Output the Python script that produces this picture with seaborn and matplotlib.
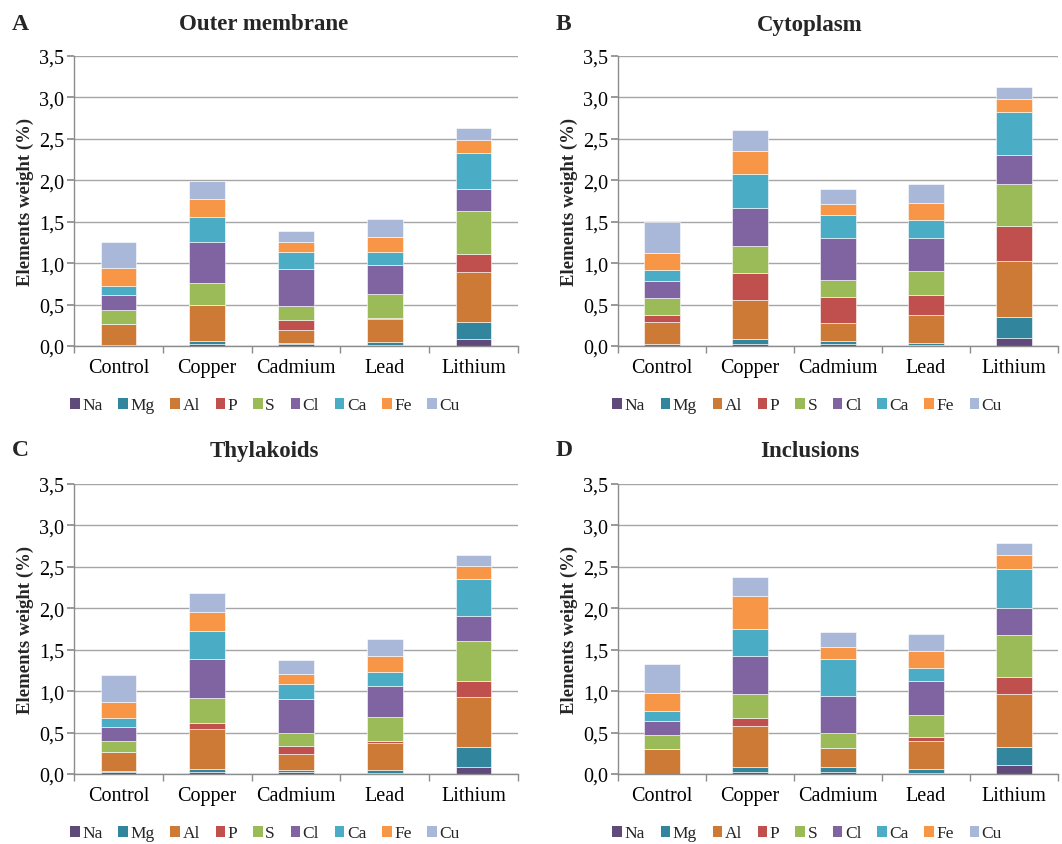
import matplotlib
matplotlib.use("Agg")
import matplotlib.pyplot as plt
from matplotlib.ticker import FuncFormatter, MultipleLocator, FixedLocator
from matplotlib.patches import Patch
import seaborn as sns
import pandas as pd
import numpy as np

categories = ["Control", "Copper", "Cadmium", "Lead", "Lithium"]
elements = ["Na", "Mg", "Al", "P", "S", "Cl", "Ca", "Fe", "Cu"]
colors = ["#604A7B", "#31859C", "#CC7A35", "#C0504D", "#9BBB59",
          "#8064A2", "#4BACC6", "#F79646", "#A9B8D8"]

# segment heights (element weight %) per category
outer = {
    "Na": [0.00, 0.030, 0.025, 0.01, 0.09],
    "Mg": [0.01, 0.035, 0.015, 0.04, 0.20],
    "Al": [0.25, 0.435, 0.15, 0.27, 0.60],
    "P":  [0.00, 0.00, 0.12, 0.02, 0.22],
    "S":  [0.17, 0.26, 0.17, 0.29, 0.52],
    "Cl": [0.18, 0.50, 0.45, 0.35, 0.27],
    "Ca": [0.12, 0.30, 0.20, 0.15, 0.43],
    "Fe": [0.21, 0.21, 0.12, 0.19, 0.16],
    "Cu": [0.32, 0.22, 0.14, 0.21, 0.14],
}
cytoplasm = {
    "Na": [0.00, 0.025, 0.025, 0.010, 0.10],
    "Mg": [0.02, 0.055, 0.035, 0.025, 0.25],
    "Al": [0.27, 0.48, 0.22, 0.335, 0.68],
    "P":  [0.08, 0.32, 0.31, 0.24, 0.42],
    "S":  [0.21, 0.33, 0.21, 0.29, 0.51],
    "Cl": [0.20, 0.46, 0.50, 0.40, 0.34],
    "Ca": [0.14, 0.41, 0.28, 0.22, 0.52],
    "Fe": [0.20, 0.27, 0.13, 0.20, 0.16],
    "Cu": [0.38, 0.26, 0.19, 0.24, 0.15],
}
thylakoids = {
    "Na": [0.02, 0.025, 0.025, 0.01, 0.09],
    "Mg": [0.02, 0.04, 0.025, 0.04, 0.24],
    "Al": [0.22, 0.475, 0.19, 0.32, 0.60],
    "P":  [0.01, 0.07, 0.10, 0.03, 0.19],
    "S":  [0.13, 0.31, 0.16, 0.29, 0.49],
    "Cl": [0.17, 0.47, 0.40, 0.37, 0.30],
    "Ca": [0.11, 0.33, 0.19, 0.17, 0.44],
    "Fe": [0.19, 0.24, 0.12, 0.19, 0.16],
    "Cu": [0.32, 0.23, 0.16, 0.21, 0.13],
}
inclusions = {
    "Na": [0.00, 0.03, 0.025, 0.01, 0.11],
    "Mg": [0.00, 0.06, 0.055, 0.05, 0.22],
    "Al": [0.30, 0.49, 0.23, 0.34, 0.64],
    "P":  [0.00, 0.09, 0.00, 0.05, 0.20],
    "S":  [0.17, 0.29, 0.19, 0.26, 0.51],
    "Cl": [0.17, 0.46, 0.44, 0.41, 0.32],
    "Ca": [0.12, 0.33, 0.45, 0.16, 0.47],
    "Fe": [0.22, 0.40, 0.14, 0.20, 0.17],
    "Cu": [0.35, 0.23, 0.18, 0.21, 0.15],
}

panels = [("A", "Outer membrane", outer),
          ("B", "Cytoplasm", cytoplasm),
          ("C", "Thylakoids", thylakoids),
          ("D", "Inclusions", inclusions)]

sns.set_theme(style="white")
plt.rcParams["font.family"] = ["Liberation Serif", "DejaVu Serif"]

fig = plt.figure(figsize=(10.62, 8.45), dpi=100)
W, H = 1062, 845
# axes boxes in pixels: left, top(3.5), right, bottom(0)
boxes = [(74, 57, 518, 347), (618, 57, 1058, 347),
         (74, 485, 518, 775), (618, 485, 1058, 775)]
# title centres / letter positions in pixels
title_pos = [(264, 25), (810, 25), (264, 452), (810, 452)]
letter_pos = [(12, 24), (556, 24), (12, 451), (556, 451)]

fmt = FuncFormatter(lambda v, p: f"{v:.1f}".replace(".", ","))

for (letter, title, data), (l, t, r, b), (tx, ty), (lx, ly) in zip(
        panels, boxes, title_pos, letter_pos):
    ax = fig.add_axes([l / W, 1 - b / H, (r - l) / W, (b - t) / H])
    bottom = np.zeros(len(categories))
    for el, col in zip(elements, colors):
        vals = np.array(data[el], dtype=float)
        df = pd.DataFrame({"cat": categories, "val": vals})
        sns.barplot(data=df, x="cat", y="val", order=categories, color=col,
                    bottom=bottom, width=0.4, ax=ax, errorbar=None,
                    edgecolor="white", linewidth=0.4, saturation=1)
        bottom = bottom + vals
    ax.set_ylim(0, 3.5)
    ax.set_xlim(-0.5, 4.5)
    ax.yaxis.set_major_locator(MultipleLocator(0.5))
    ax.yaxis.set_major_formatter(fmt)
    ax.grid(axis="y", color="#A6A6A6", linewidth=1.0)
    ax.grid(axis="x", visible=False)
    ax.set_axisbelow(True)
    for s in ["top", "right"]:
        ax.spines[s].set_visible(False)
    for s in ["left", "bottom"]:
        ax.spines[s].set_color("#8C8C8C")
        ax.spines[s].set_linewidth(1.0)
    ax.xaxis.set_minor_locator(FixedLocator([-0.5, 0.5, 1.5, 2.5, 3.5, 4.5]))
    ax.tick_params(axis="x", which="major", length=0, labelsize=14.5, pad=9,
                   labelcolor="black")
    ax.tick_params(axis="x", which="minor", length=5, color="#8C8C8C",
                   direction="out", bottom=True)
    ax.tick_params(axis="y", length=5, color="#8C8C8C", direction="out",
                   labelsize=14.5, left=True, labelcolor="black", pad=2)
    ax.set_xlabel("")
    ax.set_ylabel("Elements weight (%)", fontsize=13.5, fontweight="bold",
                  labelpad=4)
    fig.text(tx / W, 1 - ty / H, title, fontsize=16.5, fontweight="bold",
             ha="center", va="center")
    fig.text(lx / W, 1 - ly / H, letter, fontsize=17,
             fontweight="bold", ha="left", va="center")
    handles = [Patch(facecolor=c, edgecolor="none") for c in colors]
    ax.legend(handles, elements, loc="center", ncol=9, frameon=False,
              bbox_to_anchor=(0.43, -0.205), fontsize=12.5,
              handlelength=0.55, handleheight=0.55, handletextpad=0.15,
              columnspacing=0.9)

fig.savefig("out.png", dpi=100)
